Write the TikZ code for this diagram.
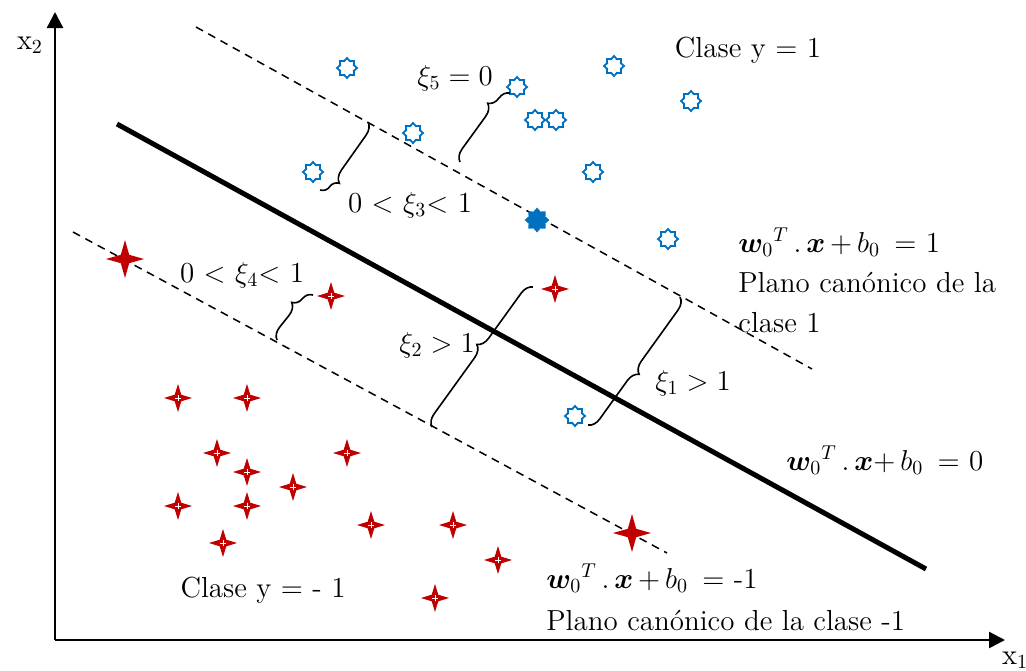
\documentclass[tikz,border=0pt]{standalone}
\usepackage{fontspec}
\usepackage{amsmath,bm}
\usetikzlibrary{arrows.meta,positioning,shapes.geometric,decorations.pathreplacing}
\definecolor{starblue}{RGB}{0,112,192}
\definecolor{starred}{RGB}{192,0,0}

\begin{document}
\begin{tikzpicture}[x=0.5pt,y=-0.5pt,every node/.style={font=\fontsize{14.5}{17}\selectfont},
  bluept/.style={star,star points=8,star point ratio=1.35,draw=starblue,line width=0.9pt,minimum size=10pt,inner sep=0pt},
  bluefull/.style={bluept,fill=starblue,minimum size=11pt},
  redpt/.style={star,star points=4,star point ratio=3.0,fill=starred,minimum size=14pt,inner sep=0pt,
    path picture={\draw[white,line width=0.3pt] (path picture bounding box.center) ++(-1.5pt,0) -- ++(3pt,0) (path picture bounding box.center) ++(0,-1.5pt) -- ++(0,3pt);}},
  redbig/.style={star,star points=4,star point ratio=3.2,fill=starred,minimum size=19pt,inner sep=0pt},
  plane/.style={dash pattern=on 4pt off 3pt,line width=0.75pt},
  eqtext/.style={anchor=base west,inner sep=0pt},
  brc/.style={decorate,decoration={brace,amplitude=6pt,aspect=#1},line width=0.8pt},brc/.default=0.5]
\useasboundingbox (0,0) rectangle (1026,670);
% axes
\coordinate (o) at (55,640); \coordinate (ytop) at (55,12); \coordinate (xend) at (1005,640);
\draw[line width=1.2pt,-{Triangle[length=8pt,width=8pt]}] (o)--(ytop); \draw[line width=1.2pt,-{Triangle[length=8pt,width=8pt]}] (o)--(xend);
\node (x2) at (30,45) {$\mathrm{x}_2$};
\node (x1) at (1015,660) {$\mathrm{x}_1$};
% hyperplane and canonical planes
\coordinate (h1) at (117,124); \coordinate (h2) at (926,569);
\coordinate (p1) at (196,27); \coordinate (p2) at (812,369);
\coordinate (m1) at (73,232); \coordinate (m2) at (667,553);
\draw[line width=2.5pt] (h1)--(h2);
\draw[plane] (p1)--(p2); \draw[plane] (m1)--(m2);
% class +1
\node[bluept] (b1) at (347,68) {}; \node[bluept] (b2) at (413,133) {}; \node[bluept] (b3) at (313,172) {};
\node[bluept] (b4) at (517,87) {}; \node[bluept] (b5) at (535,120) {}; \node[bluept] (b6) at (556,120) {};
\node[bluept] (b7) at (614,66) {}; \node[bluept] (b8) at (691,101) {}; \node[bluept] (b9) at (593,172) {};
\node[bluept] (b10) at (668,239) {}; \node[bluept] (b11) at (575,416) {};
\node[bluefull] (bsv) at (537,220) {};
% class -1
\node[redbig] (rsv1) at (125,259) {}; \node[redbig] (rsv2) at (632,533) {};
\node[redpt] (r1) at (331,296) {}; \node[redpt] (r2) at (555,289) {};
\node[redpt] (r3) at (178,398) {}; \node[redpt] (r4) at (247,398) {}; \node[redpt] (r5) at (217,453) {};
\node[redpt] (r6) at (247,472) {}; \node[redpt] (r7) at (347,453) {}; \node[redpt] (r8) at (293,487) {};
\node[redpt] (r9) at (178,506) {}; \node[redpt] (r10) at (247,506) {}; \node[redpt] (r11) at (223,543) {};
\node[redpt] (r12) at (371,525) {}; \node[redpt] (r13) at (453,525) {}; \node[redpt] (r14) at (498,560) {};
\node[redpt] (r15) at (435,598) {};
% slack braces
\coordinate (k3a) at (368,122); \coordinate (k3b) at (320,190);
\coordinate (k5a) at (460,162); \coordinate (k5b) at (510,93);
\coordinate (k4a) at (277,340); \coordinate (k4b) at (313,295);
\coordinate (k2a) at (432,427); \coordinate (k2b) at (533,287);
\coordinate (k1a) at (680,297); \coordinate (k1b) at (588,425);
\draw[brc=0.8] (k3a)--(k3b); \draw[brc=0.75] (k5a)--(k5b); \draw[brc=0.67] (k4a)--(k4b);
\draw[brc=0.54] (k2a)--(k2b); \draw[brc=0.55] (k1a)--(k1b);
% labels
\node (cpos) at (748,50) {Clase y = 1};
\node (cneg) at (263,590) {Clase y = - 1};
\node (l5) at (455,78) {$\xi_5 = 0$};
\node (l3) at (410,205) {0 $<$ $\xi_3$$<$ 1};
\node (l4) at (242,275) {0 $<$ $\xi_4$$<$ 1};
\node (l2) at (437,345) {$\xi_2 > 1$};
\node (l1) at (693,383) {$\xi_1 > 1$};
\node[eqtext] (eqp) at (738,252) {$\bm{w}_0{}^{T}$\,.\,$\bm{x}$\,+\,$b_0$\ \,= 1};
\node[eqtext] (plp1) at (738,292) {Plano canónico de la};
\node[eqtext] (plp2) at (738,332) {clase 1};
\node[eqtext] (eqz) at (786,470) {$\bm{w}_0{}^{T}$\,.\,$\bm{x}$+\,$b_0$\ \,= 0};
\node[eqtext] (eqm) at (546,588) {$\bm{w}_0{}^{T}$\,.\,$\bm{x}$\,+\,$b_0$\ \,= -1};
\node[eqtext] (plm) at (546,630) {Plano canónico de la clase -1};
\end{tikzpicture}
\end{document}
